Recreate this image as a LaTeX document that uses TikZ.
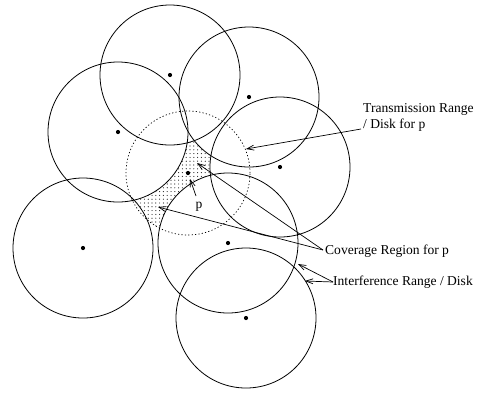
\documentclass[tikz,border=0pt]{standalone}
\usepackage{fontspec}
\setmainfont{Liberation Serif}
\usetikzlibrary{arrows.meta,patterns.meta}
\begin{document}
\begin{tikzpicture}[x=1bp,y=-1bp,
  disk/.style={draw,line width=0.8bp},
  rangedisk/.style={draw,line width=0.7bp,dash pattern=on 1.2bp off 2.2bp},
  ctrdot/.style={fill=black},
  lbl/.style={font=\fontsize{13.6}{16}\selectfont,inner sep=0pt},
  arr/.style={line width=0.7bp,-{Straight Barb[length=7bp,width=5bp]}}]
\useasboundingbox (0,0) rectangle (484,393);
% centres
\coordinate (c1) at (170,75);
\coordinate (c2) at (249,97);
\coordinate (c3) at (118,132);
\coordinate (c4) at (280,167);
\coordinate (c5) at (83,248);
\coordinate (c6) at (228,243);
\coordinate (c7) at (246,318);
\coordinate (p) at (188,173);
% coverage region
\fill[pattern={Dots[distance=3.8bp,radius=0.6bp]},pattern color=black!85] (p) circle[radius=62bp];
\foreach \c in {c1,c2,c3,c4,c5,c6,c7}{\fill[white] (\c) circle[radius=70bp];}
% disks
\foreach \c in {c1,c2,c3,c4,c5,c6,c7}{\draw[disk] (\c) circle[radius=70bp];}
\draw[rangedisk] (p) circle[radius=62bp];
\foreach \c in {c1,c2,c3,c4,c5,c6,c7,p}{\fill[ctrdot] (\c) circle[radius=2.1bp];}
% labels
\node[lbl,anchor=base west,align=left] (tr) at (363,128) {Transmission Range\\/ Disk for p};
\node[lbl,anchor=base west] (cov) at (325,254) {Coverage Region for p};
\node[lbl,anchor=base west] (intf) at (333,285) {Interference Range / Disk};
\node[lbl,anchor=base] (pl) at (199,208) {p};
% arrow ends
\coordinate (trs) at (361,129);
\coordinate (trt) at (246,149);
\coordinate (covs) at (323,250);
\coordinate (covt1) at (197,163);
\coordinate (covt2) at (158,207);
\coordinate (ints) at (333,282);
\coordinate (intt1) at (298,264);
\coordinate (intt2) at (305,281);
\coordinate (pls) at (196,196);
\coordinate (plt) at (190,179);
\draw[arr] (trs) -- (trt);
\draw[arr] (covs) -- (covt1);
\draw[arr] (covs) -- (covt2);
\draw[arr] (ints) -- (intt1);
\draw[arr] (ints) -- (intt2);
\draw[arr] (pls) -- (plt);
\end{tikzpicture}
\end{document}
